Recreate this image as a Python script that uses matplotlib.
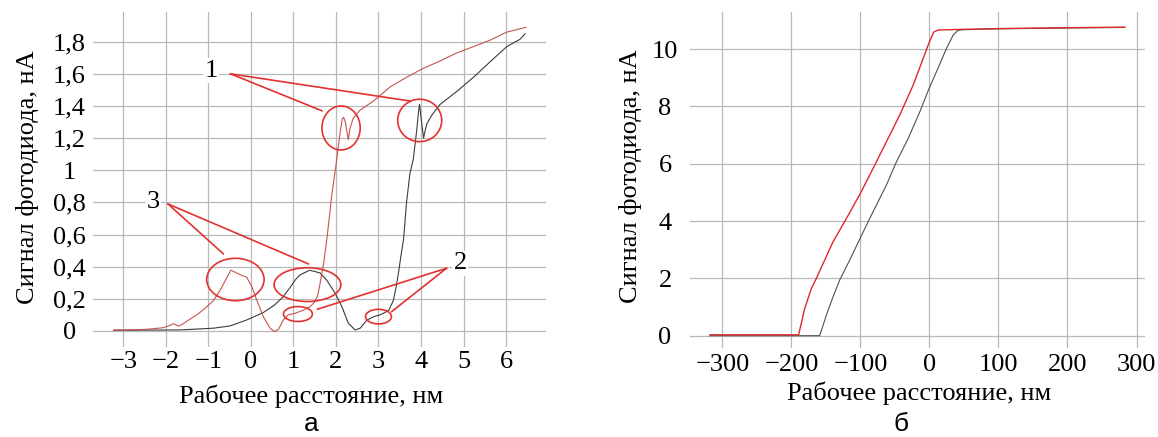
import numpy as np
import matplotlib
matplotlib.use("Agg")
import matplotlib.pyplot as plt
from matplotlib.patches import Ellipse

plt.rcParams['font.family'] = ['Liberation Serif', 'DejaVu Serif']

# панель а: сигнал (нА) от рабочего расстояния (нм)
red_a_x = [-3.23, -2.8, -2.45, -2.06, -1.9, -1.82, -1.71, -1.62, -1.51, -1.27, -1.08, -0.88,
           -0.72, -0.57, -0.47, -0.33, -0.21, -0.10, 0.02, 0.14, 0.29, 0.45, 0.55, 0.65,
           0.76, 0.88, 1.04, 1.24, 1.39, 1.50, 1.57, 1.63, 1.71, 1.79, 1.90, 2.02, 2.10,
           2.15, 2.18, 2.22, 2.29, 2.33, 2.40, 2.57, 2.88, 3.28, 3.67, 4.06, 4.45, 4.84,
           5.24, 5.63, 6.02, 6.33, 6.47]
red_a_y = [0.005, 0.007, 0.01, 0.02, 0.035, 0.045, 0.03, 0.04, 0.06, 0.10, 0.14, 0.19,
           0.255, 0.33, 0.378, 0.36, 0.345, 0.334, 0.276, 0.19, 0.089, 0.017, -0.004, 0.01,
           0.068, 0.10, 0.11, 0.13, 0.15, 0.18, 0.22, 0.30, 0.42, 0.58, 0.84, 1.07, 1.24,
           1.32, 1.33, 1.30, 1.19, 1.26, 1.32, 1.375, 1.43, 1.52, 1.58, 1.635, 1.68, 1.73,
           1.77, 1.81, 1.86, 1.88, 1.89]
black_a_x = [-3.23, -2.5, -1.67, -0.88, -0.49, -0.10, 0.29, 0.55, 0.75, 0.92, 1.05, 1.16,
             1.38, 1.50, 1.63, 1.78, 1.98, 2.14, 2.29, 2.45, 2.57, 2.73, 2.9, 3.04, 3.24,
             3.35, 3.42, 3.47, 3.53, 3.59, 3.66, 3.74, 3.82, 3.90, 3.94, 3.965, 4.00, 4.06,
             4.10, 4.14, 4.26, 4.45, 4.84, 5.24, 5.63, 6.02, 6.33, 6.45]
black_a_y = [0.004, 0.005, 0.006, 0.017, 0.031, 0.068, 0.114, 0.16, 0.21, 0.27, 0.32, 0.35,
             0.377, 0.37, 0.36, 0.317, 0.235, 0.151, 0.048, 0.006, 0.017, 0.068, 0.09, 0.10,
             0.127, 0.19, 0.28, 0.36, 0.47, 0.57, 0.80, 0.98, 1.07, 1.25, 1.36, 1.41, 1.33,
             1.20, 1.25, 1.29, 1.345, 1.41, 1.49, 1.58, 1.676, 1.77, 1.815, 1.85]

# панель б
red_b_x = [-318, -189.5, -180.7, -171, -163.8, -154, -139.6, -120.3, -100, -81.6, -62.3,
           -43, -23.7, -9.2, -0.5, 6.3, 12.6, 44, 100, 200, 283]
red_b_y = [0.03, 0.03, 0.95, 1.65, 2.0, 2.52, 3.28, 4.09, 4.97, 5.84, 6.77, 7.70, 8.74,
           9.67, 10.23, 10.60, 10.67, 10.69, 10.72, 10.75, 10.77]
black_b_x = [-318, -159, -149.3, -139.6, -130, -115.5, -100, -81.6, -62.3, -47.8, -30.9,
             -14, -0.5, 10.1, 24.6, 34.3, 41.5, 50, 100, 200, 283]
black_b_y = [0.0, 0.0, 0.72, 1.36, 1.94, 2.64, 3.42, 4.33, 5.26, 6.07, 6.88, 7.81, 8.63,
             9.21, 10.02, 10.49, 10.66, 10.68, 10.71, 10.74, 10.76]

xticks_a = [-3, -2, -1, 0, 1, 2, 3, 4, 5, 6]
xlabels_a = ['\u22123', '\u22122', '\u22121', '0', '1', '2', '3', '4', '5', '6']
yticks_a = [0, 0.2, 0.4, 0.6, 0.8, 1.0, 1.2, 1.4, 1.6, 1.8]
ylabels_a = ['0', '0,2', '0,4', '0,6', '0,8', '1', '1,2', '1,4', '1,6', '1,8']
xticks_b = [-300, -200, -100, 0, 100, 200, 300]
xlabels_b = ['\u2212300', '\u2212200', '\u2212100', '0', '100', '200', '300']
yticks_b = [0, 2, 4, 6, 8, 10]

# выноски: (центр x, центр y, ширина, высота)
circles_1 = [(2.12, 1.263, 0.90, 0.274), (3.97, 1.31, 1.035, 0.264)]
circles_2 = [(1.106, 0.105, 0.68, 0.093), (3.0, 0.089, 0.61, 0.091)]
circles_3 = [(-0.365, 0.32, 1.35, 0.264), (1.33, 0.288, 1.57, 0.21)]
leader_1 = [(-0.48, 1.60), [(1.67, 1.37), (3.76, 1.43)]]
leader_2 = [(4.60, 0.39), [(1.565, 0.135), (3.31, 0.12)]]
leader_3 = [(-1.95, 0.79), [(-0.65, 0.48), (1.35, 0.417)]]
num_pos = {'1': (-0.93, 1.62), '2': (4.92, 0.42), '3': (-2.29, 0.805)}

GRID = '#b9b9b9'
ANN = '#e3312f'
FS = 19

fig = plt.figure(figsize=(11.58, 4.37), dpi=100)
ax1 = fig.add_axes([0.0801, 0.206, 0.3914, 0.7666])
ax2 = fig.add_axes([0.5959, 0.203, 0.3927, 0.7703])

for ax in (ax1, ax2):
    for s in ax.spines.values():
        s.set_visible(False)
    ax.grid(True, color=GRID, lw=0.9)
    ax.set_axisbelow(True)
    ax.tick_params(length=0, labelsize=FS)

# а
ax1.plot(black_a_x, black_a_y, color='#3c3c3c', lw=0.8)
ax1.plot(red_a_x, red_a_y, color='#c4554f', lw=0.8)
ax1.set_xlim(-3.72, 6.94)
ax1.set_ylim(-0.10, 1.985)
ax1.set_xticks(xticks_a, xlabels_a)
ax1.set_yticks(yticks_a, ylabels_a)
ax1.tick_params(axis='y', pad=17)
ax1.tick_params(axis='x', pad=3)
for lb in ax1.get_yticklabels():
    lb.set_ha('center')

for group in (circles_1, circles_2, circles_3):
    for cx, cy, w, h in group:
        ax1.add_patch(Ellipse((cx, cy), w, h, fill=False, ec=ANN, lw=1.2, zorder=4))
for start, ends in (leader_1, leader_2, leader_3):
    for e in ends:
        ax1.plot([start[0], e[0]], [start[1], e[1]], color=ANN, lw=1.2, zorder=4)
for k, (tx, ty) in num_pos.items():
    ax1.text(tx, ty, k, fontsize=FS, ha='center', va='center', zorder=5,
             bbox=dict(fc='white', ec='none', pad=1))

# б
ax2.plot(black_b_x, black_b_y, color='#505050', lw=0.8)
ax2.plot(red_b_x, red_b_y, color='#e0282a', lw=1.0)
ax2.set_xlim(-346.8, 312)
ax2.set_ylim(-0.44, 11.31)
ax2.set_xticks(xticks_b, xlabels_b)
ax2.set_yticks(yticks_b)
ax2.tick_params(axis='y', pad=18)
ax2.tick_params(axis='x', pad=4)
for lb in ax2.get_yticklabels():
    lb.set_ha('center')

fig.text(0.2683, 0.0922, 'Рабочее расстояние, нм', fontsize=FS, ha='center', va='center')
fig.text(0.7936, 0.1007, 'Рабочее расстояние, нм', fontsize=FS, ha='center', va='center')
fig.text(0.024, 0.594, 'Сигнал фотодиода, нА', fontsize=FS, rotation=90, ha='center', va='center')
fig.text(0.5446, 0.5957, 'Сигнал фотодиода, нА', fontsize=FS, rotation=90, ha='center', va='center')
fig.text(0.2686, 0.002, 'а', fontsize=FS, family='Liberation Sans', ha='center', va='bottom')
fig.text(0.7778, 0.002, 'б', fontsize=FS, family='Liberation Sans', ha='center', va='bottom')

fig.savefig('out.png', dpi=100)
